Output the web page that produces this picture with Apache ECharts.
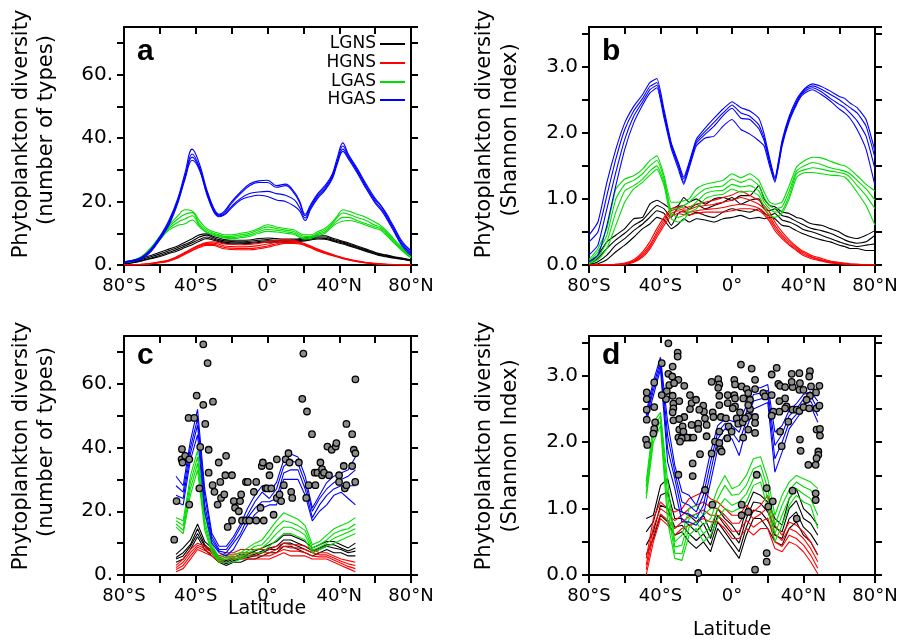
<!DOCTYPE html>
<html><head><meta charset="utf-8">
<script src="https://cdn.jsdelivr.net/npm/echarts@6/dist/echarts.min.js"></script>
<style>html,body{margin:0;padding:0;background:#fff}#c{width:904px;height:641px}</style>
</head><body><div id="c"></div><script>
// ---------- DATA ----------
const LAT_AB = [-80,-75,-70,-65,-60,-55,-50,-46,-42,-38,-34,-30,-27,-24,-20,-15,-10,-5,0,5,10,15,18,21,24,28,32,36,39,42,45,50,55,60,63,66,70,75,80];
const LAT_C = [-51,-47,-43,-39,-35,-31,-27,-23,-19,-15,-11,-7,-3,1,5,9,13,17,21,25,29,33,37,41,45,49];
const LAT_D = [-48,-44,-40,-36,-32,-28,-24,-20,-16,-12,-8,-4,0,4,8,12,16,20,24,28,32,36,40,44,48];
const X_TICK_LABELS = {'-80':'80°S','-40':'40°S','0':'0°','40':'40°N','80':'80°N'};
const GROUPS = ['LGNS','HGNS','LGAS','HGAS'];

// panel a: number of types
const A_LGNS = [
 [0.5,1.2,2.2,3,4,5,6,7.2,8.3,9.5,9.8,9,8.5,8,7.8,7.8,7.9,8.3,8.5,8.3,8.2,8.2,8.3,8.5,9,9.2,9.2,8.5,8,7.5,7,6,5,4,3.5,3.2,2.7,2.2,1.6],
 [0.5,1,1.8,2.6,3.5,4.5,5.5,6.5,7.5,8.8,9.4,8.6,8,7.6,7.4,7.3,7.5,7.8,8,7.8,7.8,7.9,8,8.2,8.5,8.8,8.8,8.2,7.6,7.2,6.7,5.7,4.7,3.8,3.3,3,2.5,2,1.5],
 [0.4,0.8,1.5,2.2,3,4,5,6,7,8,8.8,8.2,7.6,7.2,7,7,7.1,7.4,7.6,7.5,7.5,7.6,7.7,7.9,8.2,8.5,8.4,7.9,7.3,6.9,6.4,5.4,4.5,3.6,3.1,2.8,2.3,1.9,1.4],
 [0.3,0.7,1.3,2,2.7,3.6,4.5,5.5,6.4,7.5,8.3,7.8,7.3,6.9,6.7,6.7,6.8,7.1,7.2,7.2,7.2,7.3,7.4,7.6,7.9,8.2,8.1,7.6,7,6.6,6.1,5.2,4.3,3.4,2.9,2.6,2.2,1.8,1.3]
];
const A_HGNS = [
 [0,0.1,0.2,0.5,1,1.6,2.8,4,5.2,6.3,7.1,7.3,7,6.6,6.5,6.4,6.5,6.8,7.3,7.8,8,7.7,7.2,6.7,6,5,4.2,3.4,2.8,2.3,1.9,1.3,0.8,0.5,0.35,0.25,0.15,0.05,0],
 [0,0.1,0.2,0.45,0.9,1.5,2.6,3.8,5,6.1,6.8,6.9,6.5,6,5.8,5.7,5.8,6.1,6.6,7.2,7.6,7.4,7,6.5,5.8,4.8,4,3.3,2.7,2.2,1.8,1.2,0.75,0.45,0.3,0.2,0.1,0.05,0],
 [0,0.05,0.15,0.4,0.8,1.3,2.4,3.6,4.7,5.8,6.5,6.5,6,5.5,5.3,5.2,5.2,5.5,6,6.7,7.1,7.1,6.8,6.3,5.6,4.6,3.8,3.1,2.6,2.1,1.7,1.1,0.7,0.4,0.3,0.2,0.1,0.05,0],
 [0,0.05,0.1,0.35,0.7,1.2,2.2,3.4,4.5,5.5,6.2,6.2,5.6,5.1,4.9,4.8,4.8,5.1,5.6,6.3,6.8,6.8,6.6,6.1,5.4,4.4,3.6,3,2.5,2,1.6,1,0.65,0.4,0.25,0.15,0.1,0.05,0]
];
const A_LGAS = [
 [1,1.5,2.8,5.5,9,12.5,15.5,17.4,17,14,11.5,10.5,10,9.5,9.5,10,10.5,11.5,12.7,12,11.5,11,10,9.5,9.5,10.5,11.5,13.5,15.5,17.4,17,16,15,13.5,12.5,11,8.5,5.5,2.8],
 [1,1.4,2.6,5.3,8.7,12,14.5,16,16.5,13,11,10,9.5,9,9,9.5,10,11,12,11.5,11,10.5,9.5,9,9,10,11,13,15,16.4,16,15,14,12.5,12,10.5,8,5.2,2.6],
 [0.8,1.3,2.5,5,8.4,11.5,13.5,14.5,15.5,12.5,10.5,9.7,9.2,8.7,8.6,9,9.5,10.5,11.2,11,10.5,10,9,8.5,8.7,9.6,10.5,12.5,14,15,15,14,13,12,11.5,10,7.6,4.8,2.4],
 [0.7,1.2,2.4,4.8,8,11,12.5,13,14.2,12,10.2,9.4,9,8.5,8.3,8.6,9,10,10.6,10.4,10,9.6,8.7,8.2,8.4,9.2,10,12,13.2,13.8,14,13.5,12.5,11.5,11,9.5,7.2,4.5,2.2]
];
const A_HGAS = [
 [1,1.5,2.5,5,9,14,21,29,36.5,32,24,18,16,17,20,23,25.5,26.5,26.7,25,25.5,23,20,16,19,22.5,25,28.5,34,38.5,35,30.5,25.5,21,19,16.5,12.5,7.5,4.5],
 [1,1.5,2.3,4.6,8.5,13.5,20.5,28,35,31,23.5,17.5,15.8,16.5,19.5,22.5,25,26,26,24.5,25,22.5,19.5,15.5,18.5,22,24.5,28,33,37.5,34.5,30,25,20.5,18.8,16,12,7,4],
 [0.8,1.3,2.2,4.4,8.2,13,20,27.5,34,30.5,23,17,15.5,16,18.5,21,22.5,23,23.2,22.5,22,20.5,18,14.8,18,21.5,24,27.5,32.5,36.5,34,29.5,24.5,20,18,15.5,11.5,6.5,3.5],
 [0.8,1.2,2,4.2,8,12.5,19.5,27,33,30,22.5,16.8,15.2,15.8,18,20.5,21.5,22,21.6,20.5,20,18.5,17,14,17.5,21,23.5,27,32,35.8,33.5,29,24,19.5,17.5,15,11,6,3]
];

// panel b: Shannon index
const B_LGNS = [
 [0.02,0.15,0.35,0.45,0.55,0.7,0.72,0.92,0.98,0.92,0.85,0.9,1.02,0.95,1.0,0.92,1.0,1.02,0.98,1.05,1.05,1.2,1.0,0.9,0.88,0.8,0.78,0.72,0.7,0.65,0.62,0.6,0.55,0.5,0.45,0.42,0.4,0.45,0.52],
 [0,0.1,0.25,0.38,0.48,0.6,0.68,0.8,0.9,0.85,0.72,0.88,0.9,0.85,0.92,0.85,0.9,0.95,1.02,0.92,0.98,1.0,0.85,0.82,0.85,0.75,0.72,0.66,0.62,0.58,0.55,0.52,0.48,0.42,0.38,0.35,0.33,0.35,0.45],
 [0,0.05,0.15,0.3,0.4,0.52,0.62,0.72,0.82,0.78,0.6,0.78,0.82,0.75,0.8,0.75,0.72,0.8,0.85,0.82,0.8,0.85,0.78,0.75,0.78,0.68,0.65,0.6,0.55,0.52,0.5,0.45,0.4,0.35,0.32,0.3,0.28,0.3,0.32],
 [0,0.02,0.08,0.2,0.3,0.42,0.55,0.62,0.72,0.68,0.55,0.62,0.7,0.65,0.7,0.68,0.65,0.7,0.72,0.75,0.7,0.72,0.7,0.72,0.7,0.6,0.58,0.52,0.48,0.45,0.42,0.38,0.35,0.3,0.28,0.25,0.25,0.22,0.22]
];
const B_HGNS = [
 [0,0,0,0.01,0.03,0.08,0.2,0.35,0.55,0.72,0.85,0.88,0.86,0.88,0.92,0.95,0.98,1.02,1.06,1.12,1.05,0.98,0.9,0.8,0.65,0.5,0.38,0.28,0.22,0.18,0.14,0.1,0.06,0.04,0.03,0.02,0.01,0,0],
 [0,0,0,0.01,0.02,0.06,0.17,0.3,0.5,0.68,0.82,0.85,0.83,0.84,0.88,0.9,0.92,0.95,0.98,1.02,0.98,0.92,0.85,0.74,0.6,0.46,0.35,0.26,0.2,0.16,0.12,0.08,0.05,0.03,0.02,0.01,0.01,0,0],
 [0,0,0,0,0.01,0.05,0.14,0.27,0.46,0.64,0.78,0.82,0.8,0.8,0.82,0.84,0.85,0.87,0.9,0.92,0.9,0.86,0.8,0.7,0.56,0.43,0.32,0.24,0.18,0.14,0.11,0.07,0.04,0.03,0.02,0.01,0,0,0],
 [0,0,0,0,0.01,0.04,0.12,0.24,0.42,0.6,0.74,0.78,0.76,0.76,0.78,0.8,0.8,0.8,0.82,0.85,0.85,0.82,0.76,0.66,0.52,0.4,0.3,0.22,0.16,0.12,0.09,0.06,0.03,0.02,0.01,0,0,0,0]
];
const B_LGAS = [
 [0.08,0.25,0.55,1.15,1.3,1.35,1.45,1.58,1.65,1.35,0.95,0.95,0.97,1.0,1.15,1.22,1.25,1.28,1.38,1.32,1.38,1.28,1.1,0.95,0.92,0.95,1.2,1.48,1.55,1.6,1.63,1.62,1.57,1.52,1.5,1.45,1.35,1.22,1.12],
 [0.05,0.2,0.45,1.0,1.22,1.28,1.38,1.5,1.58,1.3,0.85,0.85,0.9,0.95,1.05,1.15,1.18,1.2,1.3,1.25,1.3,1.2,1.02,0.9,0.85,0.88,1.12,1.42,1.48,1.52,1.55,1.52,1.47,1.44,1.42,1.38,1.28,1.15,0.98],
 [0.03,0.12,0.35,0.8,1.12,1.2,1.3,1.42,1.5,1.25,0.78,0.72,0.75,0.85,0.95,1.08,1.12,1.13,1.22,1.18,1.2,1.12,0.95,0.85,0.8,0.82,1.05,1.38,1.43,1.45,1.47,1.45,1.42,1.4,1.38,1.33,1.2,1.05,0.85],
 [0.02,0.08,0.25,0.6,0.95,1.15,1.25,1.36,1.45,1.2,0.7,0.65,0.68,0.8,0.85,1.0,1.05,1.07,1.15,1.1,1.12,1.05,0.88,0.75,0.72,0.78,1.0,1.32,1.38,1.4,1.4,1.38,1.36,1.35,1.33,1.25,1.1,0.9,0.6]
];
const B_HGAS = [
 [0.45,0.65,1.25,1.75,2.15,2.4,2.58,2.76,2.82,2.35,1.85,1.55,1.33,1.55,1.9,2.07,2.22,2.36,2.47,2.38,2.33,2.22,1.98,1.62,1.32,1.88,2.25,2.5,2.62,2.7,2.74,2.7,2.63,2.55,2.52,2.45,2.38,2.2,1.72],
 [0.35,0.5,1.05,1.6,2.05,2.33,2.52,2.7,2.76,2.3,1.82,1.52,1.3,1.52,1.87,2.02,2.16,2.3,2.42,2.3,2.25,2.12,1.92,1.58,1.3,1.85,2.22,2.47,2.6,2.68,2.71,2.66,2.58,2.5,2.44,2.38,2.3,2.1,1.62],
 [0.15,0.3,0.85,1.4,1.9,2.25,2.47,2.65,2.72,2.27,1.8,1.5,1.25,1.5,1.84,1.98,2.1,2.26,2.37,2.22,2.2,2.06,1.88,1.55,1.27,1.82,2.2,2.44,2.58,2.65,2.68,2.62,2.52,2.43,2.38,2.3,2.18,1.95,1.45],
 [0.05,0.15,0.6,1.2,1.75,2.15,2.42,2.6,2.68,2.22,1.76,1.45,1.22,1.46,1.8,1.92,1.95,2.1,2.2,2.05,1.98,1.88,1.8,1.5,1.25,1.8,2.17,2.42,2.56,2.62,2.65,2.58,2.48,2.36,2.3,2.22,2.05,1.75,1.2]
];

// panel c: number of types, observation sites
const C_LGNS = [
 [6.5,8.5,11,16,10.5,8.5,5.5,4.5,5.5,6.5,6.5,7.5,8.5,9.5,10.5,12.5,12.5,11.5,10.5,8.5,9.5,10.5,10.5,9.5,8.5,10],
 [5.5,7,9.5,14.5,9.5,7.5,5,4,5,5.5,6,6.5,7.5,8.5,9,11,11,10,9,7.5,8.5,9.5,9.5,8.5,7.5,8.5],
 [5,6,9,13,9,7,4.5,3.5,4.5,5,5.5,6,7,8,8,10,10,9,8,7,8,9,8.5,8,7,7.5],
 [4,5,8,12,8,6,4,3,4,4,5,5,6,7,7,9,9,8,7,6,7,8,7,7,6,6]
];
const C_HGNS = [
 [3,5,8,10,9,8,6,7,7,8,8,8,8,8,9,10,9.5,9.5,9,8,7,7,6,5,4.5,4],
 [2.3,4,7,9.3,8.3,7.3,5.3,6.3,6.3,7,7,7,7,7,8,9,8.5,8.5,8,7,6.3,6.3,5.3,4.3,3.5,3],
 [1.7,3,6,8.7,7.7,6.7,4.7,5.7,5.7,6,6,6,6,6,7,8,7.5,7.5,7,6,5.7,5.7,4.7,3.7,2.7,2],
 [1,2,5,8,7,6,4,5,5,5,5,5,5,5,6,7,6,6,6,5,5,5,4,3,2,1]
];
const C_LGAS = [
 [18,17,31,39,19,9.5,5.5,6.5,6.5,7,8.5,10,11,14,17,19.5,18.5,17.5,15.5,9.5,10.5,12.5,14.5,15.5,16.5,18],
 [17,15.5,29,37,17,8.5,5,5.5,5.5,6.3,7.5,9,9.5,12,15,17,16.5,15.5,14,8.5,9.5,11,13,14,14.5,16],
 [16,14,27,35,15.5,7.5,4.5,5,5,5.5,6.8,8,8.5,10.5,13,15,15,14,12.5,7.8,8.7,10,11.5,12.5,13.5,14.5],
 [15,13,25,33,14,7,4,4,4,5,6,7,7,9,11,13,13,12,11,7,8,9,10,11,12,13]
];
const C_HGAS = [
 [31,28,42,52,27,13,9,9,12,16,21,25,28,26,29,36,38,37,31,21,25,29,31,32,33,37],
 [28,26,40,49,25,12,8,8,11,15,19,23,26,24,27,34,36,35,29,20,24,27,29,30,31,33],
 [25,24,38,47,22,11,7.5,7,10,13,18,21,23,23,24,32,33,33,27,18,22,25,27,28,28,28],
 [23,22,36,44,20,10,7,6,8,12,16,19,21,22,22,30,30,30,25,17,20,22,25,26,24,22]
];
const C_OBS = [[-52.0,11.1],[-50.7,23.2],[-47.7,39.5],[-47.9,36.3],[-47.4,35.3],[-45.9,37.4],[-43.6,36.3],[-44.0,49.3],[-43.6,22.1],[-40.8,49.3],[-39.5,56.3],[-37.5,40.2],[-38.0,27.2],[-35.8,72.4],[-35.8,53.4],[-34.7,47.4],[-33.4,66.5],[-32.8,39.3],[-32.8,32.1],[-30.4,54.4],[-30.6,28.2],[-29.6,26.1],[-27.8,22.1],[-27.2,35.3],[-26.3,29.2],[-25.9,24.2],[-24.1,25.3],[-23.1,37.4],[-23.5,31.3],[-22.2,15.1],[-19.8,17.1],[-19.8,31.3],[-18.8,23.2],[-18.1,21.1],[-16.0,20.0],[-15.3,23.2],[-14.7,25.3],[-14.2,17.1],[-12.0,29.2],[-11.0,29.2],[-12.0,17.1],[-10.1,17.1],[-7.6,26.1],[-6.3,29.2],[-6.3,17.1],[-3.9,21.1],[-3.2,34.2],[-2.6,35.3],[-2.1,17.1],[-1.1,27.2],[-0.2,27.2],[1.1,34.2],[1.1,31.3],[2.1,27.2],[3.4,18.9],[5.2,36.3],[5.2,24.2],[6.7,25.3],[7.6,23.2],[9.1,28.2],[10.1,36.3],[11.7,38.2],[12.3,35.3],[13.2,26.1],[13.8,24.2],[17.5,35.3],[20.0,69.5],[19.4,55.3],[22.0,51.3],[21.6,24.2],[22.9,28.2],[24.8,44.2],[26.7,28.2],[26.3,32.1],[27.8,32.1],[29.5,35.3],[30.4,33.2],[30.4,31.3],[31.5,32.1],[33.4,40.3],[34.3,31.3],[35.8,39.3],[38.0,40.3],[38.4,41.4],[39.9,31.3],[39.9,29.2],[42.5,34.2],[43.1,27.2],[44.0,28.2],[44.0,47.4],[47.2,34.2],[47.2,44.2],[48.1,39.3],[49.0,38.2],[49.0,61.4],[48.9,29.2]];

// panel d: Shannon index, observation sites
const D_LGNS = [
 [0.85,0.9,1.35,1.45,1.0,0.95,0.9,0.8,0.9,0.65,1.0,0.85,0.75,0.6,1.0,1.25,1.2,1.1,0.85,0.75,1.15,1.3,1.0,0.9,0.75],
 [0.65,0.8,1.2,1.25,0.85,0.85,0.75,0.65,0.78,0.55,0.9,0.75,0.62,0.48,0.85,1.1,1.08,0.95,0.72,0.65,1.0,1.12,0.85,0.78,0.6],
 [0.45,0.65,1.05,1.0,0.72,0.75,0.62,0.52,0.62,0.45,0.8,0.65,0.5,0.35,0.72,0.98,0.95,0.82,0.6,0.55,0.85,0.95,0.72,0.62,0.45],
 [0.3,0.55,0.9,0.8,0.6,0.65,0.5,0.4,0.5,0.35,0.7,0.55,0.4,0.25,0.6,0.85,0.85,0.7,0.5,0.45,0.7,0.8,0.6,0.5,0.3]
];
const D_HGNS = [
 [0.25,0.85,1.1,1.0,0.95,1.0,1.15,1.2,1.25,1.15,1.1,1.0,0.9,0.9,1.05,0.95,1.05,1.2,0.75,0.6,0.8,0.75,0.65,0.5,0.3],
 [0.15,0.72,1.0,0.92,0.82,0.9,1.0,1.05,1.1,1.02,1.0,0.9,0.78,0.78,0.95,0.85,0.92,1.02,0.62,0.52,0.7,0.65,0.55,0.4,0.2],
 [0.08,0.6,0.92,0.83,0.7,0.8,0.88,0.92,0.98,0.9,0.9,0.8,0.66,0.66,0.82,0.72,0.8,0.86,0.5,0.43,0.6,0.55,0.45,0.3,0.1],
 [0.0,0.5,0.85,0.75,0.6,0.7,0.75,0.8,0.85,0.8,0.8,0.7,0.55,0.55,0.7,0.6,0.7,0.7,0.4,0.35,0.5,0.45,0.35,0.2,0.02]
];
const D_LGAS = [
 [1.4,2.3,2.45,1.4,0.5,0.6,1.0,1.05,0.9,1.0,1.3,1.5,1.3,1.35,1.5,1.75,1.78,1.45,0.9,1.2,1.4,1.5,1.45,1.4,1.3],
 [1.32,2.2,2.4,1.2,0.42,0.45,0.85,0.92,0.75,0.85,1.15,1.35,1.2,1.22,1.35,1.6,1.65,1.3,0.75,1.05,1.28,1.4,1.33,1.28,1.1],
 [1.22,2.1,2.32,1.0,0.33,0.32,0.72,0.8,0.62,0.72,1.0,1.15,1.05,1.1,1.22,1.45,1.52,1.15,0.62,0.9,1.15,1.3,1.22,1.15,0.9],
 [1.15,2.0,2.25,0.8,0.25,0.22,0.6,0.7,0.5,0.6,0.85,1.0,0.95,1.0,1.1,1.35,1.4,1.0,0.5,0.75,1.05,1.2,1.1,1.05,0.7]
];
const D_HGAS = [
 [2.45,2.92,3.28,2.3,1.65,1.25,1.2,1.05,1.35,1.85,2.25,2.35,2.32,2.28,2.55,2.82,2.82,2.87,2.15,2.25,2.48,2.58,2.72,2.76,2.62],
 [2.4,2.85,3.22,2.1,1.55,1.1,1.05,0.95,1.2,1.7,2.15,2.28,2.25,2.15,2.45,2.72,2.74,2.78,1.95,2.12,2.4,2.5,2.65,2.7,2.5],
 [2.35,2.78,3.16,1.9,1.45,0.95,0.92,0.85,1.05,1.55,2.05,2.2,2.15,2.0,2.32,2.62,2.65,2.7,1.75,2.0,2.3,2.42,2.57,2.62,2.4],
 [2.3,2.7,3.1,1.7,1.3,0.8,0.8,0.75,0.9,1.4,1.9,2.1,2.05,1.8,2.2,2.5,2.55,2.6,1.55,1.85,2.2,2.35,2.5,2.55,2.3]
];
const D_OBS = [[-35.6,3.49],[-30.4,3.35],[-30.4,3.29],[-39.3,3.19],[-33.2,3.14],[-35.6,3.03],[-33.4,2.99],[-30.0,2.94],[-26.7,2.85],[-43.5,2.90],[-47.7,2.75],[-36.5,2.77],[-35.1,2.86],[-32.4,2.89],[-33.2,2.70],[-36.9,2.65],[-39.3,2.71],[-47.7,2.65],[-47.7,2.49],[-43.5,2.53],[-47.7,2.34],[-48.1,2.04],[-47.4,1.96],[-32.8,2.58],[-32.8,2.51],[-33.2,2.45],[-32.8,2.33],[-29.5,2.62],[-26.7,2.38],[-29.5,2.35],[-29.5,2.19],[-27.6,2.24],[-27.2,2.13],[-30.0,2.07],[-26.9,2.07],[-23.5,2.71],[-22.6,2.59],[-23.5,2.50],[-20.1,2.64],[-16.1,2.55],[-15.7,2.46],[-18.3,2.49],[-15.1,2.36],[-18.9,2.28],[-22.6,2.26],[-18.9,2.20],[-23.5,2.07],[-25.3,2.07],[-21.6,2.07],[-14.2,2.09],[-11.4,2.91],[-7.7,2.95],[-7.1,2.87],[-7.7,2.82],[-7.1,2.70],[-10.8,2.45],[-7.1,2.56],[-10.4,2.38],[-6.2,2.38],[-3.4,2.36],[-2.4,2.71],[-2.4,2.59],[1.3,2.94],[1.7,2.87],[1.3,2.71],[1.7,2.66],[1.7,2.54],[0.4,2.51],[4.5,2.45],[5.4,2.84],[5.0,3.17],[8.2,2.80],[9.1,2.74],[11.0,3.11],[12.9,2.94],[12.9,2.80],[10.1,2.64],[10.1,2.50],[9.1,2.39],[12.9,2.14],[12.9,2.38],[2.6,2.36],[3.5,2.28],[6.0,2.30],[7.3,2.36],[-1.9,2.24],[-2.6,2.06],[-0.2,2.16],[-7.1,2.16],[-9.5,2.01],[-6.7,1.90],[-17.9,1.82],[-14.2,2.26],[-27.2,2.16],[-28.1,2.06],
 [6.3,2.66],[9.1,2.56],[12.9,2.29],[9.1,2.19],[6.3,2.07],[22.2,3.02],[25.0,3.12],[17.5,2.74],[18.5,2.69],[22.2,2.71],[25.9,2.88],[26.9,2.85],[29.7,2.83],[29.7,2.66],[26.5,2.62],[33.4,3.03],[37.7,3.04],[33.9,2.83],[33.4,2.91],[38.0,2.89],[43.6,3.07],[43.2,2.99],[37.7,2.79],[40.0,2.79],[44.2,2.84],[48.9,2.85],[47.0,2.75],[43.6,2.70],[41.7,2.64],[30.5,2.54],[33.9,2.49],[29.7,2.51],[26.5,2.46],[23.1,2.46],[22.2,2.40],[36.2,2.49],[37.7,2.47],[40.0,2.53],[43.2,2.51],[47.3,2.51],[48.9,2.55],[31.5,2.31],[26.9,2.16],[27.8,1.94],[38.0,2.04],[38.4,1.87],[47.3,2.19],[49.2,2.20],[49.2,2.10],[48.3,1.86],[48.3,1.81],
 [-29.1,2.01],[-22.0,1.68],[-22.0,1.49],[-30.0,1.51],[-11.4,1.83],[-5.8,1.86],[-7.1,1.99],[-15.1,1.28],[13.8,1.51],[19.4,1.31],[22.8,1.11],[42.7,1.66],[46.8,1.66],[47.3,1.76],[33.9,1.27],[36.2,0.85],[46.8,1.23],[46.8,1.13],[20.3,1.03],[19.4,0.33],[19.4,0.20],[12.9,0.08],[-18.9,0.03],[5.4,0.90],[9.1,0.95],[5.4,1.06],[-43.0,2.30],[-43.5,2.20],[-44.0,2.13],[-11.0,1.06]];

// ---------- CHART ----------
const COLORS = {LGNS:'#000000', HGNS:'#ff0000', LGAS:'#00dd00', HGAS:'#0000ff'};
const PANELS = [
  {lat:LAT_AB, sets:{LGNS:A_LGNS,HGNS:A_HGNS,LGAS:A_LGAS,HGAS:A_HGAS}, smooth:0.4, ymax:75, kind:'n'},
  {lat:LAT_AB, sets:{LGNS:B_LGNS,HGNS:B_HGNS,LGAS:B_LGAS,HGAS:B_HGAS}, smooth:0.15, ymax:3.6, kind:'s'},
  {lat:LAT_C, sets:{LGNS:C_LGNS,HGNS:C_HGNS,LGAS:C_LGAS,HGAS:C_HGAS}, smooth:false, ymax:75, kind:'n', obs:C_OBS},
  {lat:LAT_D, sets:{LGNS:D_LGNS,HGNS:D_HGNS,LGAS:D_LGAS,HGAS:D_HGAS}, smooth:false, ymax:3.6, kind:'s', obs:D_OBS}
];
const GRIDS = [
  {left:124, top:27, width:287, height:238},
  {left:589, top:27, width:286, height:238},
  {left:124, top:336, width:287, height:239},
  {left:589, top:336, width:286, height:239}
];
const FONT = '"DejaVu Sans", Verdana, sans-serif';
const lineW = {color:'#000', width:2};

const xAxes = [], yAxes = [], series = [];
GRIDS.forEach((g, i) => {
  const P = PANELS[i];
  xAxes[i] = {type:'value', gridIndex:i, min:-80, max:80, interval:20, position:'bottom',
    axisLine:{show:true, onZero:false, lineStyle:lineW},
    axisTick:{show:true, inside:false, length:8, lineStyle:lineW},
    axisLabel:{show:true, margin:12, color:'#000', fontFamily:FONT, fontSize:18,
      formatter: v => X_TICK_LABELS[String(v)] || ''},
    splitLine:{show:false}};
  xAxes[4+i] = {type:'value', gridIndex:i, min:-80, max:80, interval:20, position:'top',
    axisLine:{show:true, onZero:false, lineStyle:lineW},
    axisTick:{show:true, inside:true, length:7, lineStyle:lineW},
    axisLabel:{show:false}, splitLine:{show:false}};
  const isN = P.kind === 'n';
  yAxes[i] = {type:'value', gridIndex:i, min:0, max:P.ymax, interval: isN ? 10 : 0.5, position:'left',
    axisLine:{show:true, onZero:false, lineStyle:lineW},
    axisTick:{show:true, inside:false, length:7, lineStyle:lineW},
    axisLabel:{show:true, margin:11, color:'#000', fontFamily:FONT, fontSize:20, showMaxLabel:false,
      formatter: isN ? (v => (v % 20 === 0 && v <= 60) ? (v + '.') : '')
                     : (v => (Math.abs(v - Math.round(v)) < 1e-6 && v <= 3) ? v.toFixed(1) : '')},
    splitLine:{show:false}};
  yAxes[4+i] = {type:'value', gridIndex:i, min:0, max:P.ymax, interval: isN ? 10 : 0.5, position:'right',
    axisLine:{show:true, onZero:false, lineStyle:lineW},
    axisTick:{show:true, inside:false, length:7, lineStyle:lineW},
    axisLabel:{show:false}, splitLine:{show:false}};

  GROUPS.forEach(gname => {
    P.sets[gname].forEach(member => {
      series.push({type:'line', name:gname, xAxisIndex:i, yAxisIndex:i,
        data: P.lat.map((x, k) => [x, member[k]]),
        showSymbol:false, symbol:'none', smooth:P.smooth, silent:true,
        lineStyle:{color:COLORS[gname], width:1.1}, itemStyle:{color:COLORS[gname]},
        emphasis:{disabled:true}, z:2});
    });
  });
  if (P.obs) {
    series.push({type:'scatter', xAxisIndex:i, yAxisIndex:i, data:P.obs, symbol:'circle', symbolSize:6.5,
      silent:true, itemStyle:{color:'#8c8c8c', borderColor:'#000', borderWidth:1.3, opacity:1},
      emphasis:{disabled:true}, z:5});
  }
});

function txt(x, y, text, size, opts) {
  opts = opts || {};
  return {type:'text', x:x, y:y, rotation:opts.rot || 0, z:10, silent:true,
    style:{text:text, fill:'#000', font:(opts.weight||'normal') + ' ' + size + 'px ' + (opts.family || FONT),
      align:opts.align || 'center', verticalAlign:'middle',
      textAlign:opts.align || 'center', textVerticalAlign:'middle'}};
}
const R = Math.PI / 2;
const graphics = [
  txt(22, 134, 'Phytoplankton diversity', 21, {rot:R}),
  txt(47, 130, '(number of types)', 21, {rot:R}),
  txt(485, 134, 'Phytoplankton diversity', 21, {rot:R}),
  txt(511, 130, '(Shannon Index)', 21, {rot:R}),
  txt(22, 446, 'Phytoplankton diversity', 21, {rot:R}),
  txt(47, 442, '(number of types)', 21, {rot:R}),
  txt(485, 446, 'Phytoplankton diversity', 21, {rot:R}),
  txt(511, 446, '(Shannon Index)', 21, {rot:R}),
  txt(267, 609, 'Latitude', 19),
  txt(732, 630, 'Latitude', 19),
  txt(137, 52, 'a', 30, {align:'left', weight:'bold', family:'"Liberation Sans", Arial, sans-serif'}),
  txt(602, 52, 'b', 30, {align:'left', weight:'bold', family:'"Liberation Sans", Arial, sans-serif'}),
  txt(137, 356, 'c', 30, {align:'left', weight:'bold', family:'"Liberation Sans", Arial, sans-serif'}),
  txt(602, 356, 'd', 30, {align:'left', weight:'bold', family:'"Liberation Sans", Arial, sans-serif'})
];
const LEG_Y = [44, 63, 82, 100];
GROUPS.forEach((gname, k) => {
  graphics.push(txt(376, LEG_Y[k], gname, 17, {align:'right'}));
  graphics.push({type:'line', silent:true, z:10, shape:{x1:380, y1:LEG_Y[k], x2:405, y2:LEG_Y[k]},
    style:{stroke:COLORS[gname], lineWidth:2}});
});

const chart = echarts.init(document.getElementById('c'), null, {renderer:'canvas'});
chart.setOption({
  animation:false,
  backgroundColor:'#fff',
  grid:GRIDS,
  xAxis:xAxes,
  yAxis:yAxes,
  series:series,
  graphic:graphics
});
</script></body></html>
